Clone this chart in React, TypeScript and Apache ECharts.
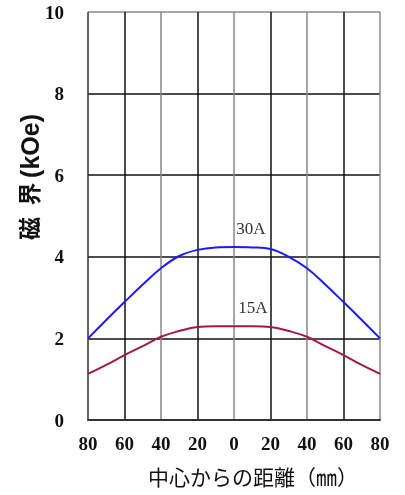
import React, { useEffect, useRef } from "react";
import * as echarts from "echarts";

const distances = [-80, -70, -60, -50, -40, -30, -20, -10, 0, 10, 20, 30, 40, 50, 60, 70, 80];
const field30A = [2.0, 2.45, 2.89, 3.32, 3.72, 4.02, 4.17, 4.23, 4.24, 4.23, 4.19, 4.0, 3.72, 3.32, 2.89, 2.45, 2.0];
const field15A = [1.13, 1.35, 1.59, 1.81, 2.04, 2.18, 2.28, 2.3, 2.3, 2.3, 2.28, 2.18, 2.04, 1.81, 1.59, 1.35, 1.13];
const label30A = { text: "30A", x: 9.3, y: 4.7 };
const label15A = { text: "15A", x: 10.4, y: 2.75 };
const yAxisTitleCjk = "磁\u2002界\u2009";
const yAxisTitleUnit = "(kOe)";
const xAxisTitle = "中心からの距離（㎜）";

const serif = "'Liberation Serif', 'DejaVu Serif', serif";
const sansCjk = "'Liberation Sans', 'Noto Sans CJK JP', sans-serif";
const cjk = "'Liberation Serif', 'Noto Sans CJK JP', serif";

export default function App() {
  const ref = useRef<HTMLDivElement>(null);
  useEffect(() => {
    if (!ref.current) return;
    const chart = echarts.init(ref.current, null, { renderer: "svg" });
    const pts = (ys: number[]) => distances.map((x, i) => [x, ys[i]]);
    const mk = (l: { text: string; x: number; y: number }) => ({
      symbol: "circle",
      symbolSize: 1,
      itemStyle: { color: "rgba(0,0,0,0)" },
      label: {
        show: true,
        position: "inside",
        formatter: l.text,
        color: "#333",
        fontFamily: serif,
        fontSize: 17,
      },
      data: [{ coord: [l.x, l.y] }],
    });
    chart.setOption({
      animation: false,
      grid: { left: 88, right: 25, top: 12, bottom: 75, containLabel: false, outerBoundsMode: "none" },
      xAxis: {
        type: "value",
        min: -80,
        max: 80,
        interval: 20,
        axisLine: { show: true, onZero: false, lineStyle: { color: "#333", width: 2 } },
        axisTick: { show: false },
        axisLabel: {
          formatter: (v: number) => String(Math.abs(v)),
          color: "#111",
          fontFamily: serif,
          fontWeight: "bold",
          fontSize: 19,
          margin: 14,
        },
        splitLine: {
          show: true,
          lineStyle: {
            color: ["#333", "#111", "#888", "#111", "#888", "#111", "#888", "#111", "#888"],
            width: 1.5,
          },
        },
      },
      yAxis: {
        type: "value",
        min: 0,
        max: 10,
        interval: 2,
        axisLine: { show: false },
        axisTick: { show: false },
        axisLabel: {
          color: "#111",
          fontFamily: serif,
          fontWeight: "bold",
          fontSize: 19,
          margin: 24,
        },
        splitLine: {
          show: true,
          lineStyle: { color: ["#333", "#111", "#111", "#111", "#111", "#888"], width: 1.5 },
        },
      },
      graphic: [
        {
          type: "text",
          left: 17,
          top: 114,
          rotation: Math.PI / 2,
          style: {
            text: `{a|${yAxisTitleCjk}}{b|${yAxisTitleUnit}}`,
            fontFamily: sansCjk,
            fontWeight: "bold",
            fontSize: 23,
            fill: "#111",
            rich: {
              a: { fontFamily: sansCjk, fontWeight: "bold", fontSize: 23, fill: "#111" },
              b: { fontFamily: sansCjk, fontWeight: "bold", fontSize: 25, fill: "#111" },
            },
          },
        },
        {
          type: "text",
          x: 148,
          y: 467,
          style: {
            text: xAxisTitle,
            fontFamily: cjk,
            fontSize: 21,
            fill: "#111",
          },
        },
      ],
      series: [
        {
          name: "30A",
          type: "line",
          data: pts(field30A),
          smooth: 0.4,
          showSymbol: false,
          lineStyle: { color: "#1a1aff", width: 2 },
          itemStyle: { color: "#1a1aff" },
          markPoint: mk(label30A),
        },
        {
          name: "15A",
          type: "line",
          data: pts(field15A),
          smooth: 0.4,
          showSymbol: false,
          lineStyle: { color: "#a3174a", width: 2 },
          itemStyle: { color: "#a3174a" },
          markPoint: mk(label15A),
        },
      ],
    });
    return () => chart.dispose();
  }, []);
  return <div ref={ref} style={{ position: "fixed", left: 0, top: 0, width: 405, height: 495 }} />;
}
